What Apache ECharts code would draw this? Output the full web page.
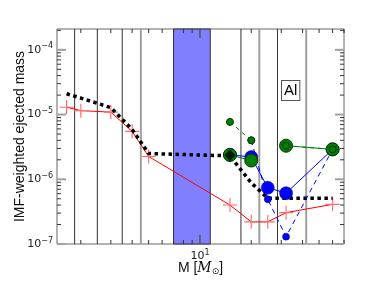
<!DOCTYPE html>
<html><head><meta charset="utf-8">
<script src="https://cdn.jsdelivr.net/npm/echarts@6/dist/echarts.min.js"></script>
<style>html,body{margin:0;padding:0;background:#fff}#c{width:382px;height:288px}</style>
</head><body><div id="c"></div>
<script>
// ---- data ----
const massesLow = [1.65, 2, 3, 4, 5, 15, 20, 25, 32, 60];
const redVals = [1.3e-5, 1.15e-5, 1.09e-5, 5.5e-6, 2.25e-6, 4.0e-7, 2.2e-7, 2.2e-7, 3.05e-7, 4.1e-7];
const blackVals = [2.1e-5, 1.8e-5, 1.28e-5, 5.9e-6, 2.5e-6, 2.3e-6, 8.8e-7, 5.1e-7, 5.1e-7, 5.1e-7];
const massesHigh = [15, 20, 25, 32, 60];
const blueBig = [2.4e-6, 2.2e-6, 7.4e-7, 6.1e-7, 2.9e-6];
const blueSmall = [null, 4.0e-6, 4.9e-7, 1.3e-7, 2.9e-6];
const greenBig = [2.38e-6, 1.95e-6, null, 3.3e-6, 2.9e-6];
const greenSmall = [7.7e-6, 4.0e-6, null, 3.3e-6, 2.9e-6];
const blackMarker = [[15, 2.35e-6]];
const darkLines = [1.84, 2.5, 3.5, 17.4, 28.5];
const grayLines = [4.5, 22.3, 42];
const band = [7, 11.5];
const xMajorTicks = [10];
const xMinorTicks = [2, 3, 4, 5, 6, 7, 8, 9, 20, 30, 40, 50, 60, 70];
const yMajorTicks = [1e-7, 1e-6, 1e-5, 1e-4];
const yMinorTicks = [];
[-7, -6, -5, -4].forEach(e => { for (let k = 2; k <= 9; k++) { const v = k * Math.pow(10, e); if (v <= 2.1e-4) yMinorTicks.push(v); } });
const xRange = [1.45, 70];
const yRange = [1e-7, 2.1e-4];

const pair = (xs, ys) => xs.map((m, i) => [m, ys[i] == null ? '-' : ys[i]]);

function pow10Label(v) {
  const e = Math.round(Math.log10(v));
  if (Math.abs(Math.log10(v) - e) > 1e-6) return '';
  return '10{sup|' + (e < 0 ? '\u2212' + (-e) : e) + '}';
}
const supRich = { sup: { fontSize: 8, verticalAlign: 'top', padding: [0, 0, 7, 0], color: '#222', fontFamily: 'DejaVu Sans' } };

const chart = echarts.init(document.getElementById('c'), null, { renderer: 'canvas' });

function vline(color, width) {
  return function (params, api) {
    const cs = params.coordSys;
    const x = api.coord([api.value(0), yRange[0]])[0];
    return { type: 'line', shape: { x1: x, y1: cs.y, x2: x, y2: cs.y + cs.height }, style: { stroke: color, lineWidth: width } };
  };
}
function xTicks(len, color, width) {
  return function (params, api) {
    const cs = params.coordSys;
    const x = api.coord([api.value(0), yRange[0]])[0];
    const st = { stroke: color, lineWidth: width };
    return { type: 'group', children: [
      { type: 'line', shape: { x1: x, y1: cs.y + cs.height, x2: x, y2: cs.y + cs.height - len }, style: st },
      { type: 'line', shape: { x1: x, y1: cs.y, x2: x, y2: cs.y + len }, style: st }
    ] };
  };
}
function yTicks(len, color, width) {
  return function (params, api) {
    const cs = params.coordSys;
    const y = api.coord([xRange[0], api.value(1)])[1];
    const st = { stroke: color, lineWidth: width };
    return { type: 'group', children: [
      { type: 'line', shape: { x1: cs.x, y1: y, x2: cs.x + len, y2: y }, style: st },
      { type: 'line', shape: { x1: cs.x + cs.width, y1: y, x2: cs.x + cs.width - len, y2: y }, style: st }
    ] };
  };
}

const option = {
  animation: false,
  backgroundColor: '#fff',
  grid: { left: 57, right: 38, top: 29, bottom: 44, show: true, borderColor: '#666', borderWidth: 1, backgroundColor: 'transparent' },
  xAxis: {
    type: 'log', logBase: 10, min: xRange[0], max: xRange[1],
    axisLine: { show: false }, axisTick: { show: false }, splitLine: { show: false },
    axisLabel: { formatter: pow10Label, rich: supRich, fontSize: 11, color: '#222', fontFamily: 'DejaVu Sans', margin: 5, showMinLabel: false, showMaxLabel: false },
    name: 'M [{it|M}{sub|\u2299}]', nameLocation: 'middle', nameGap: 17, nameMoveOverlap: false,
    nameTextStyle: { fontSize: 14, color: '#111', fontFamily: 'Liberation Sans',
      rich: { it: { fontSize: 14, fontStyle: 'italic', fontFamily: 'DejaVu Serif', color: '#111' },
              sub: { fontSize: 9, verticalAlign: 'bottom', padding: [6, 0, 0, 0], color: '#111', fontFamily: 'DejaVu Sans' } } }
  },
  yAxis: {
    type: 'log', logBase: 10, min: yRange[0], max: yRange[1],
    axisLine: { show: false }, axisTick: { show: false }, splitLine: { show: false },
    axisLabel: { formatter: pow10Label, rich: supRich, fontSize: 11, color: '#222', fontFamily: 'DejaVu Sans', margin: 4, showMaxLabel: false },
    name: 'IMF-weighted ejected mass', nameLocation: 'middle', nameGap: 30, nameMoveOverlap: false,
    nameTextStyle: { fontSize: 14, color: '#111', fontFamily: 'Liberation Sans' }
  },
  graphic: [{
    type: 'text', left: 281, top: 80, z: 100,
    style: { text: 'Al', fontSize: 15, fontFamily: 'Liberation Sans', fill: '#000', backgroundColor: '#fff', borderColor: '#555', borderWidth: 1, padding: [2, 2, 2, 2] }
  }],
  series: [
    { type: 'custom', z: 1, silent: true, data: [[band[0], yRange[0], band[1]]],
      renderItem: function (params, api) {
        const cs = params.coordSys;
        const x0 = api.coord([api.value(0), yRange[0]])[0];
        const x1 = api.coord([api.value(2), yRange[0]])[0];
        return { type: 'rect', shape: { x: x0, y: cs.y, width: x1 - x0, height: cs.height }, style: { fill: '#8080ff', stroke: '#333', lineWidth: 1 } };
      } },
    { type: 'custom', z: 2, silent: true, data: darkLines.map(v => [v, yRange[0]]), renderItem: vline('#333', 1) },
    { type: 'custom', z: 2, silent: true, data: grayLines.map(v => [v, yRange[0]]), renderItem: vline('#a0a0a0', 2) },
    { type: 'custom', z: 3, silent: true, data: xMinorTicks.map(v => [v, yRange[0]]), renderItem: xTicks(4, '#333', 1) },
    { type: 'custom', z: 3, silent: true, data: xMajorTicks.map(v => [v, yRange[0]]), renderItem: xTicks(9, '#555', 1.5) },
    { type: 'custom', z: 3, silent: true, data: yMinorTicks.map(v => [xRange[0], v]), renderItem: yTicks(4, '#333', 1) },
    { type: 'custom', z: 3, silent: true, data: yMajorTicks.map(v => [xRange[0], v]), renderItem: yTicks(9, '#a0a0a0', 2) },
    { type: 'line', z: 4, data: pair(massesLow, redVals), lineStyle: { color: '#ff0000', width: 1 },
      symbol: 'path://M0,4.6h10v0.8h-10z M4.6,0h0.8v10h-0.8z', symbolSize: 14, itemStyle: { color: '#ff6a6a' } },
    { type: 'line', z: 5, data: pair(massesLow, blackVals), symbol: 'none', lineStyle: { color: '#000', width: 3.5, type: [3.5, 3.5], cap: 'butt' } },
    { type: 'line', z: 6, data: pair(massesHigh, blueBig), connectNulls: false, lineStyle: { color: '#0000ff', width: 1 },
      symbol: 'circle', symbolSize: 13, itemStyle: { color: '#0000ff', borderColor: '#00007a', borderWidth: 0.5 } },
    { type: 'line', z: 7, data: pair(massesHigh, blueSmall), connectNulls: false, lineStyle: { color: '#0000ff', width: 1, type: [5, 4] },
      symbol: 'circle', symbolSize: 7, itemStyle: { color: '#0000ff', borderColor: '#00007a', borderWidth: 0.5 } },
    { type: 'line', z: 8, data: pair(massesHigh, greenBig), connectNulls: false, lineStyle: { color: '#008000', width: 1 },
      symbol: 'circle', symbolSize: 13, itemStyle: { color: '#008000', borderColor: '#003300', borderWidth: 1 } },
    { type: 'line', z: 9, data: pair(massesHigh, greenSmall), connectNulls: false, lineStyle: { color: '#008000', width: 1, type: [4, 4] },
      symbol: 'circle', symbolSize: 7, itemStyle: { color: '#008000', borderColor: '#003300', borderWidth: 1 } },
    { type: 'scatter', z: 10, data: blackMarker, symbol: 'diamond', symbolSize: [11, 12], itemStyle: { color: '#000' } }
  ]
};
chart.setOption(option);
</script></body></html>
